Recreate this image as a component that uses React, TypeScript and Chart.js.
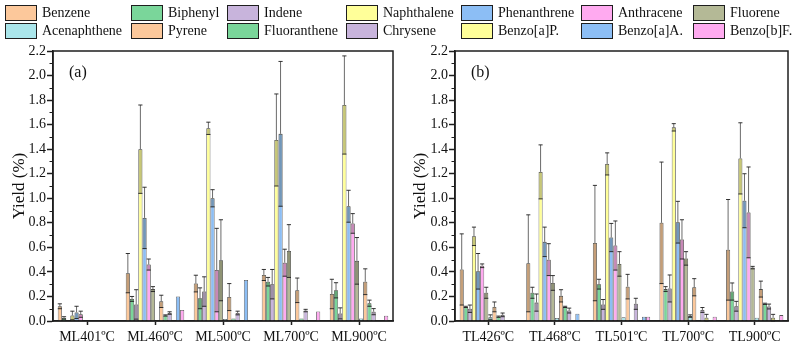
import React, { useEffect, useRef } from "react";
import { Chart, registerables } from "chart.js";

Chart.register(...registerables);

const FONT = "'Liberation Serif', 'Times New Roman', serif";

const compounds = [
  "Benzene", "Biphenyl", "Indene", "Naphthalene", "Phenanthrene", "Anthracene", "Fluorene",
  "Acenaphthene", "Pyrene", "Fluoranthene", "Chrysene", "Benzo[a]P.", "Benzo[a]A.", "Benzo[b]F.",
];

const fills = [
  "#fcc89b", "#7ad69a", "#c8b4dc", "#ffff99", "#8cbef5", "#ffaaf0", "#b4b996",
  "#aae6eb", "#fcc89b", "#7ad69a", "#c8b4dc", "#ffff99", "#8cbef5", "#ffaaf0",
];

const mlLabels = ["ML401ºC", "ML460ºC", "ML500ºC", "ML700ºC", "ML900ºC"];
const tlLabels = ["TL426ºC", "TL468ºC", "TL501ºC", "TL700ºC", "TL900ºC"];

// Yield (%) per compound, in the order of `compounds`, with ± error
const ml401 = [0.12, 0.025, 0, 0.045, 0.07, 0.055, 0, 0, 0, 0, 0, 0, 0, 0];
const ml401Err = [0.02, 0.01, 0, 0.035, 0.05, 0.025, 0, 0, 0, 0, 0, 0, 0, 0];
const ml460 = [0.39, 0.18, 0.135, 1.4, 0.84, 0.46, 0.26, 0, 0.16, 0.045, 0.065, 0, 0.2, 0.09];
const ml460Err = [0.16, 0.02, 0.12, 0.36, 0.25, 0.045, 0.02, 0, 0.05, 0.005, 0.01, 0, 0, 0];
const ml500 = [0.305, 0.185, 0.24, 1.57, 1.0, 0.415, 0.495, 0.016, 0.195, 0.02, 0.065, 0, 0.335, 0];
const ml500Err = [0.068, 0.085, 0.12, 0.05, 0.07, 0.34, 0.33, 0, 0.11, 0, 0.015, 0, 0, 0];
const ml700 = [0.375, 0.32, 0.3, 1.475, 1.525, 0.475, 0.57, 0, 0.25, 0.02, 0.085, 0, 0, 0.077];
const ml700Err = [0.045, 0.035, 0.12, 0.375, 0.59, 0.11, 0.215, 0, 0.1, 0, 0.01, 0, 0, 0];
const ml900 = [0.22, 0.25, 0.062, 1.76, 0.935, 0.795, 0.49, 0.02, 0.32, 0.145, 0.076, 0, 0, 0.043];
const ml900Err = [0.12, 0.062, 0.045, 0.4, 0.13, 0.08, 0.19, 0, 0.105, 0.025, 0.025, 0, 0, 0];

const tl426 = [0.42, 0.115, 0.1, 0.69, 0.405, 0.45, 0.23, 0.03, 0.115, 0.035, 0.05, 0, 0, 0];
const tl426Err = [0.29, 0.005, 0.03, 0.075, 0.145, 0.015, 0.045, 0.02, 0.04, 0.005, 0.015, 0, 0, 0];
const tl468 = [0.47, 0.23, 0.15, 1.215, 0.645, 0.5, 0.31, 0.025, 0.205, 0.115, 0.085, 0, 0.06, 0];
const tl468Err = [0.395, 0.045, 0.07, 0.22, 0.12, 0.13, 0.06, 0, 0.05, 0.005, 0.02, 0, 0, 0];
const tl501 = [0.635, 0.3, 0.135, 1.28, 0.68, 0.615, 0.465, 0.03, 0.28, 0, 0.14, 0.005, 0.035, 0.035];
const tl501Err = [0.47, 0.04, 0.04, 0.09, 0.115, 0.2, 0.1, 0, 0.1, 0, 0.045, 0, 0, 0];
const tl700 = [0.8, 0.26, 0.265, 1.578, 0.805, 0.665, 0.51, 0.04, 0.275, 0, 0.09, 0.027, 0, 0.035];
const tl700Err = [0.495, 0.02, 0.11, 0.03, 0.17, 0.16, 0.055, 0.01, 0.07, 0, 0.02, 0.027, 0, 0];
const tl900 = [0.58, 0.24, 0.12, 1.325, 0.98, 0.885, 0.435, 0.027, 0.26, 0.14, 0.118, 0.027, 0, 0.048];
const tl900Err = [0.41, 0.07, 0.04, 0.29, 0.22, 0.37, 0.01, 0, 0.065, 0.005, 0.02, 0.027, 0, 0];

const yTicks = [0, 0.2, 0.4, 0.6, 0.8, 1.0, 1.2, 1.4, 1.6, 1.8, 2.0, 2.2];

const INK = "#1e1e1e";

// Shaded band from (value - error) to value, plus the upper error whisker and caps
const errorPlugin = {
  id: "errorBands",
  afterDatasetsDraw(chart: any) {
    const ctx = chart.ctx;
    const y = chart.scales.y;
    ctx.save();
    chart.data.datasets.forEach((ds: any, i: number) => {
      const meta = chart.getDatasetMeta(i);
      meta.data.forEach((bar: any, j: number) => {
        const v = ds.data[j];
        const e = ds.errors[j];
        if (!e || !v) return;
        const { x, width } = bar.getProps(["x", "width"], true);
        const pTop = y.getPixelForValue(v);
        const pLow = y.getPixelForValue(Math.max(0, v - e));
        const pHigh = y.getPixelForValue(v + e);
        ctx.fillStyle = "rgba(40,40,20,0.26)";
        ctx.fillRect(x - width / 2 + 0.5, pTop, width - 1, pLow - pTop);
        const cap = Math.max(2, width / 2);
        ctx.lineWidth = 1;
        ctx.strokeStyle = "rgba(90,90,90,0.9)";
        ctx.beginPath();
        ctx.moveTo(x, pHigh);
        ctx.lineTo(x, pTop);
        ctx.stroke();
        ctx.strokeStyle = "rgba(30,30,30,0.9)";
        ctx.beginPath();
        ctx.moveTo(x - cap, pHigh);
        ctx.lineTo(x + cap, pHigh);
        ctx.moveTo(x - cap, pLow);
        ctx.lineTo(x + cap, pLow);
        ctx.stroke();
      });
    });
    ctx.restore();
  },
};

// Plot frame, minor y ticks and the panel tag
const framePlugin = {
  id: "panelFrame",
  afterDraw(chart: any, _args: any, opts: any) {
    const { ctx, chartArea } = chart;
    const y = chart.scales.y;
    ctx.save();
    ctx.strokeStyle = INK;
    ctx.lineWidth = 1.5;
    ctx.strokeRect(chartArea.left, chartArea.top, chartArea.right - chartArea.left, chartArea.bottom - chartArea.top);
    ctx.lineWidth = 1;
    ctx.beginPath();
    for (let k = 0; k < yTicks.length - 1; k++) {
      const p = Math.round(y.getPixelForValue((yTicks[k] + yTicks[k + 1]) / 2)) + 0.5;
      ctx.moveTo(chartArea.left - 3.5, p);
      ctx.lineTo(chartArea.left, p);
    }
    ctx.stroke();
    ctx.fillStyle = "#111";
    ctx.font = `16px ${FONT}`;
    ctx.textBaseline = "middle";
    ctx.fillText(opts.tag, chartArea.left + 16, chartArea.top + 22);
    ctx.restore();
  },
};

type PanelProps = {
  labels: string[];
  rows: number[][];
  errs: number[][];
  tag: string;
  left: number;
  width: number;
  axisWidth: number;
  padRight: number;
  titlePad: number;
};

function Panel({ labels, rows, errs, tag, left, width, axisWidth, padRight, titlePad }: PanelProps) {
  const ref = useRef<HTMLCanvasElement>(null);
  useEffect(() => {
    const datasets = compounds.map((name, k) => ({
      label: name,
      data: rows.map((r) => r[k]),
      errors: errs.map((r) => r[k]),
      backgroundColor: fills[k],
      borderColor: "rgba(30,30,30,0.75)",
      borderWidth: 0.8,
      categoryPercentage: 0.86,
      barPercentage: 1,
    }));
    const chart = new Chart(ref.current as HTMLCanvasElement, {
      type: "bar",
      data: { labels, datasets: datasets as any },
      plugins: [errorPlugin, framePlugin],
      options: {
        responsive: false,
        animation: false,
        layout: { padding: { top: 51, right: padRight, left: 0, bottom: 0 } },
        plugins: {
          legend: { display: false },
          tooltip: { enabled: false },
          panelFrame: { tag },
        } as any,
        scales: {
          x: {
            type: "category",
            offset: true,
            grid: {
              display: true,
              offset: false,
              drawOnChartArea: false,
              drawTicks: true,
              tickLength: 4,
              tickColor: INK,
              tickWidth: 1.5,
            },
            border: { display: true, color: INK, width: 1.5 },
            ticks: {
              font: { family: FONT, size: 14 },
              color: "#111",
              padding: 4,
              maxRotation: 0,
              autoSkip: false,
            },
            afterFit: (s: any) => {
              s.height = 28;
            },
          },
          y: {
            min: 0,
            max: 2.2,
            ticks: {
              stepSize: 0.2,
              callback: (v: any) => Number(v).toFixed(1),
              font: { family: FONT, size: 14 },
              color: "#111",
              padding: 1,
            },
            grid: {
              drawOnChartArea: false,
              drawTicks: true,
              tickLength: 6,
              tickColor: INK,
              tickWidth: 1.5,
            },
            border: { display: true, color: INK, width: 1.5 },
            title: {
              display: true,
              text: "Yield (%)",
              font: { family: FONT, size: 17 },
              color: "#111",
              padding: { top: titlePad, bottom: 0 },
            },
            afterFit: (s: any) => {
              s.width = axisWidth;
            },
          },
        },
      } as any,
    });
    return () => chart.destroy();
  }, []);
  return (
    <canvas
      ref={ref}
      width={width}
      height={349}
      style={{ position: "absolute", left, top: 0, width, height: 349 }}
    />
  );
}

const legendCols = [5, 131, 227, 346, 461, 581, 693];
const legendRows = [5, 23];

function Legend() {
  return (
    <>
      {compounds.map((name, k) => (
        <div
          key={name}
          style={{
            position: "absolute",
            left: legendCols[k % 7],
            top: legendRows[Math.floor(k / 7)],
            display: "flex",
            alignItems: "center",
            height: 16,
            fontFamily: FONT,
            fontSize: 14,
            color: "#111",
            whiteSpace: "nowrap",
          }}
        >
          <span
            style={{
              display: "inline-block",
              boxSizing: "border-box",
              width: 32,
              height: 16,
              background: fills[k],
              border: `1.5px solid ${INK}`,
              marginRight: 5,
            }}
          />
          <span>{name}</span>
        </div>
      ))}
    </>
  );
}

export default function App() {
  useEffect(() => {
    document.body.style.margin = "0";
  }, []);
  return (
    <div style={{ position: "relative", width: 798, height: 349, background: "#fff", overflow: "hidden" }}>
      <Panel
        labels={mlLabels}
        rows={[ml401, ml460, ml500, ml700, ml900]}
        errs={[ml401Err, ml460Err, ml500Err, ml700Err, ml900Err]}
        tag="(a)"
        left={0}
        width={400}
        axisWidth={53}
        padRight={7}
        titlePad={9}
      />
      <Panel
        labels={tlLabels}
        rows={[tl426, tl468, tl501, tl700, tl900]}
        errs={[tl426Err, tl468Err, tl501Err, tl700Err, tl900Err]}
        tag="(b)"
        left={400}
        width={398}
        axisWidth={55}
        padRight={10}
        titlePad={10}
      />
      <Legend />
    </div>
  );
}
